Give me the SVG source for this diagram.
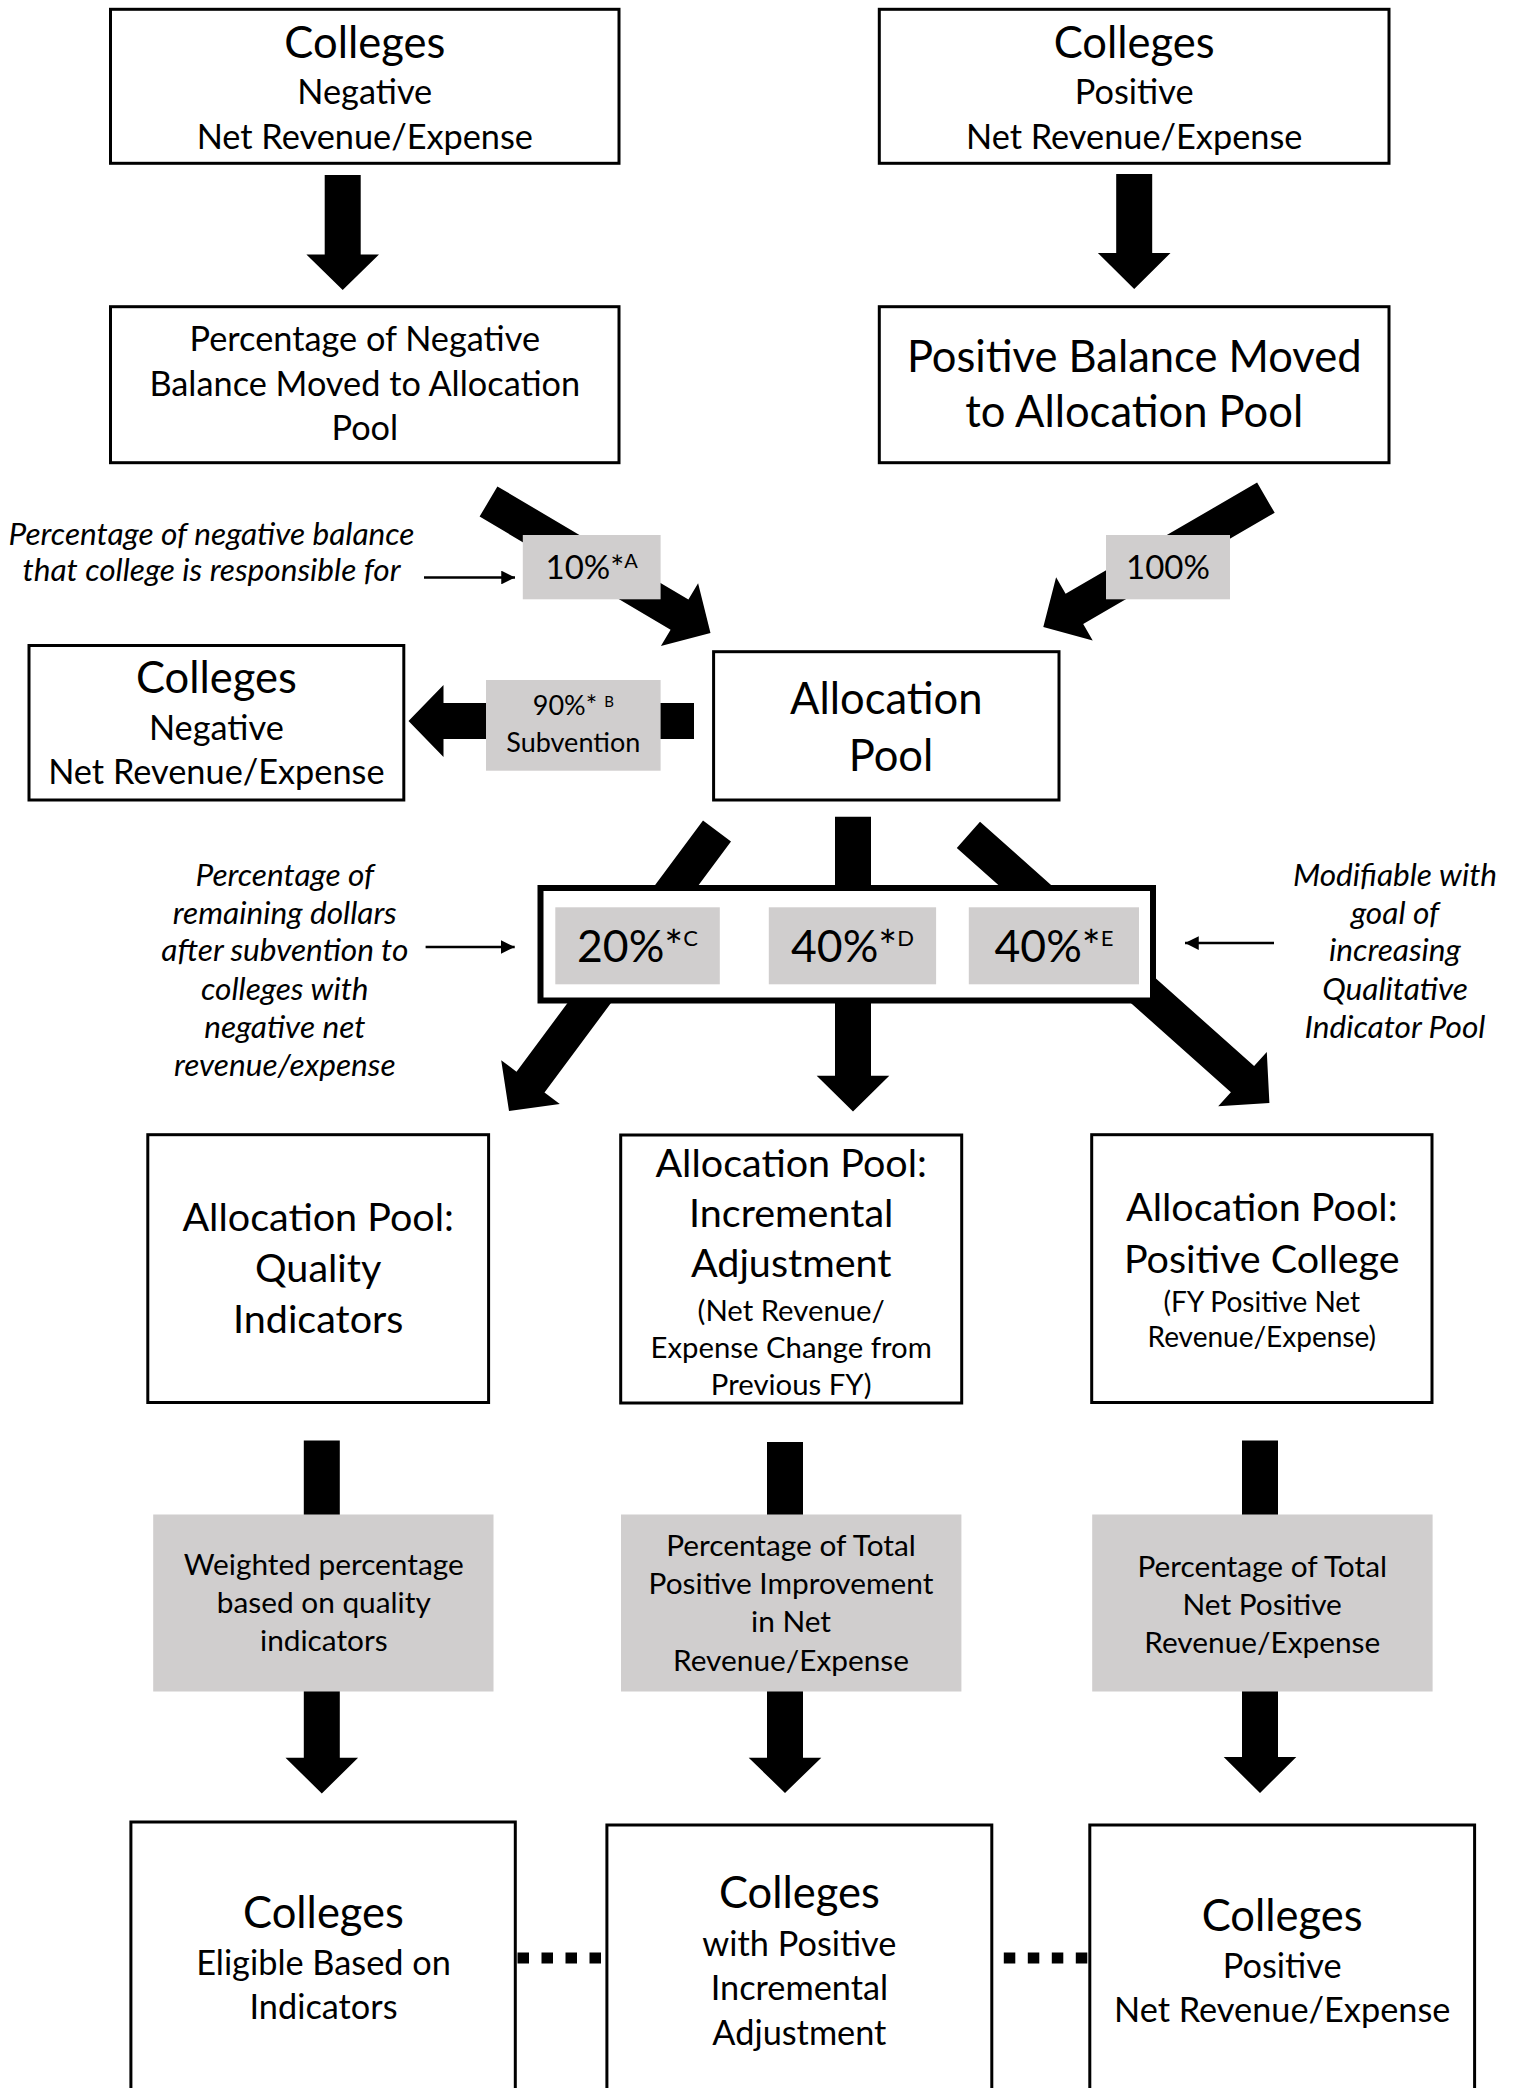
<svg xmlns="http://www.w3.org/2000/svg" width="1517" height="2088" viewBox="0 0 1517 2088">
<style>
.box{fill:#fff;stroke:#000;stroke-width:3}
.frame{fill:#fff;stroke:#000;stroke-width:6}
.gray{fill:#D0CECE}
.ar{fill:#000}
.thin{stroke:#000;stroke-width:2.5;fill:none}
.dots{stroke:#000;stroke-width:11;stroke-dasharray:11.5 12.5;fill:none}
text{font-family:Lato,"Liberation Sans",sans-serif;fill:#000;text-anchor:middle}
.s40{font-size:43.5px}.s38{font-size:39.5px}.s32{font-size:34.3px}.s31{font-size:33px}
.s27{font-size:29.3px}.s25{font-size:28px}.s26{font-size:27px}.s275{font-size:29.8px}
.pct{font-size:44.5px}
.it{font-style:italic;font-size:31.6px}
</style>
<defs>
<marker id="ah" viewBox="0 0 10 10" refX="10" refY="5" markerWidth="5.5" markerHeight="5.5" markerUnits="strokeWidth" orient="auto">
<path d="M0,0 L10,5 L0,10 z" fill="#000"/>
</marker>
</defs>

<g id="connectors">
<polygon class="ar" points="324.7,175 360.7,175 360.7,254.5 379,254.5 342.7,290 306.4,254.5 324.7,254.5"/>
<polygon class="ar" points="1116.2,174 1152.2,174 1152.2,253 1170.5,253 1134.2,289 1097.9,253 1116.2,253"/>
<polygon class="ar" points="497.4,486.4 688.4,599.6 698.1,583.2 710.5,633 660.9,646.1 670.6,629.7 479.6,516.6"/>
<polygon class="ar" points="1257.1,482.6 1274.7,512.8 1083.2,624 1092.7,640.5 1043.3,627 1056.1,577.3 1065.6,593.8"/>
<polygon class="ar" points="694,703 443.5,703 443.5,685 408.5,721 443.5,757 443.5,739 694,739"/>
<polygon class="ar" points="835,816.7 871,816.7 871,1075.8 889.3,1075.8 853,1111.4 816.7,1075.8 835,1075.8"/>
<polygon class="ar" points="703,820.6 731,841.4 544.5,1092.5 559.8,1103.9 509,1111 501.2,1060.3 516.5,1071.7"/>
<polygon class="ar" points="980,821.7 1254.1,1066 1266.8,1051.9 1269.4,1103 1218.2,1106.3 1230.9,1092.2 956.8,847.9"/>
<polygon class="ar" points="303.8,1440.5 339.8,1440.5 339.8,1757.7 358.1,1757.7 321.8,1793.5 285.5,1757.7 303.8,1757.7"/>
<polygon class="ar" points="767,1442 803,1442 803,1757.7 821.3,1757.7 785,1793 748.7,1757.7 767,1757.7"/>
<polygon class="ar" points="1242,1440.5 1278,1440.5 1278,1757 1296.3,1757 1260,1793 1223.7,1757 1242,1757"/>
<line class="thin" x1="424" y1="577.5" x2="515" y2="577.5" marker-end="url(#ah)"/>
<line class="thin" x1="425.6" y1="947" x2="514.7" y2="947" marker-end="url(#ah)"/>
<line class="thin" x1="1274" y1="943" x2="1185" y2="943" marker-end="url(#ah)"/>
<line class="dots" x1="517.5" y1="1958" x2="603" y2="1958"/>
<line class="dots" x1="1003.8" y1="1958" x2="1089" y2="1958"/>
</g>

<g id="n-neg-top">
<rect class="box" x="110.5" y="9.3" width="508.5" height="154"/>
<text class="s40" x="364.8" y="58">Colleges</text>
<text class="s32" x="364.8" y="104">Negative</text>
<text class="s32" x="364.8" y="149">Net Revenue/Expense</text>
</g>
<g id="n-pos-top">
<rect class="box" x="879.3" y="9.3" width="509.7" height="154"/>
<text class="s40" x="1134.2" y="58">Colleges</text>
<text class="s32" x="1134.2" y="104">Positive</text>
<text class="s32" x="1134.2" y="149">Net Revenue/Expense</text>
</g>
<g id="n-neg-pct">
<rect class="box" x="110.5" y="306.7" width="508.5" height="156"/>
<text class="s32" x="364.8" y="351">Percentage of Negative</text>
<text class="s32" x="364.8" y="396">Balance Moved to Allocation</text>
<text class="s32" x="364.8" y="440">Pool</text>
</g>
<g id="n-pos-bal">
<rect class="box" x="879.3" y="306.7" width="509.7" height="156"/>
<text class="s40" x="1134.2" y="372">Positive Balance Moved</text>
<text class="s40" x="1134.2" y="427">to Allocation Pool</text>
</g>
<g id="n-neg-left">
<rect class="box" x="29" y="645.5" width="374.8" height="154.5"/>
<text class="s40" x="216.4" y="693">Colleges</text>
<text class="s32" x="216.4" y="740">Negative</text>
<text class="s32" x="216.4" y="784">Net Revenue/Expense</text>
</g>
<g id="n-pool">
<rect class="box" x="713.6" y="651.7" width="345.4" height="148.3"/>
<text class="s40" x="886.3" y="714">Allocation</text>
<text class="s40" x="891" y="771">Pool</text>
</g>
<g id="n-split">
<rect class="frame" x="540.5" y="888" width="612.5" height="112.5"/>
<rect class="gray" x="555.3" y="907.3" width="164.5" height="77"/>
<rect class="gray" x="768.8" y="907.3" width="167.3" height="77"/>
<rect class="gray" x="968.8" y="907.3" width="170.2" height="77"/>
<text x="637.5" y="961.7" class="pct">20%*<tspan font-size="22" dy="-16">C</tspan></text>
<text x="852.5" y="961.7" class="pct">40%*<tspan font-size="22" dy="-16">D</tspan></text>
<text x="1054" y="961.7" class="pct">40%*<tspan font-size="22" dy="-16">E</tspan></text>
</g>
<g id="n-quality">
<rect class="box" x="147.8" y="1134.7" width="340.8" height="267.8"/>
<text class="s38" x="318.2" y="1231">Allocation Pool:</text>
<text class="s38" x="318.2" y="1282">Quality</text>
<text class="s38" x="318.2" y="1333">Indicators</text>
</g>
<g id="n-incr">
<rect class="box" x="620.7" y="1135" width="341" height="268"/>
<text class="s38" x="791.2" y="1177">Allocation Pool:</text>
<text class="s38" x="791.2" y="1227">Incremental</text>
<text class="s38" x="791.2" y="1277">Adjustment</text>
<text class="s27" x="791.2" y="1321">(Net Revenue/</text>
<text class="s27" x="791.2" y="1358">Expense Change from</text>
<text class="s27" x="791.2" y="1395">Previous FY)</text>
</g>
<g id="n-poscol">
<rect class="box" x="1091.7" y="1134.7" width="340.3" height="267.8"/>
<text class="s38" x="1261.8" y="1221">Allocation Pool:</text>
<text class="s38" x="1261.8" y="1273">Positive College</text>
<text class="s25" x="1261.8" y="1312">(FY Positive Net</text>
<text class="s25" x="1261.8" y="1347">Revenue/Expense)</text>
</g>
<g id="n-eligible">
<rect class="box" x="130.9" y="1822" width="384.4" height="290"/>
<text class="s40" x="323.5" y="1928">Colleges</text>
<text class="s32" x="323.5" y="1975">Eligible Based on</text>
<text class="s32" x="323.5" y="2019">Indicators</text>
</g>
<g id="n-incr-col">
<rect class="box" x="606.9" y="1825" width="384.9" height="290"/>
<text class="s40" x="799.4" y="1908">Colleges</text>
<text class="s32" x="799.4" y="1956">with Positive</text>
<text class="s32" x="799.4" y="2000">Incremental</text>
<text class="s32" x="799.4" y="2045">Adjustment</text>
</g>
<g id="n-pos-bottom">
<rect class="box" x="1089.8" y="1825" width="384.8" height="290"/>
<text class="s40" x="1282.2" y="1931">Colleges</text>
<text class="s32" x="1282.2" y="1978">Positive</text>
<text class="s32" x="1282.2" y="2022">Net Revenue/Expense</text>
</g>

<g id="labels">
<rect class="gray" x="522.8" y="535" width="137.8" height="64.3"/>
<text class="s31" x="591.7" y="579.3">10%*<tspan font-size="20" dy="-11">A</tspan></text>
<rect class="gray" x="1106" y="535" width="124" height="64.3"/>
<text class="s31" x="1168" y="579.3">100%</text>
<rect class="gray" x="486" y="680" width="174.6" height="90.7"/>
<text class="s26" x="573.3" y="715">90%* <tspan font-size="15" dy="-8">B</tspan></text>
<text class="s26" x="573.3" y="752">Subvention</text>
<text class="it" x="211.5" y="545">Percentage of negative balance</text>
<text class="it" x="211.5" y="581">that college is responsible for</text>
<text class="it" x="284.8" y="886">Percentage of</text>
<text class="it" x="284.8" y="924">remaining dollars</text>
<text class="it" x="284.8" y="961">after subvention to</text>
<text class="it" x="284.8" y="1000">colleges with</text>
<text class="it" x="284.8" y="1038">negative net</text>
<text class="it" x="284.8" y="1076">revenue/expense</text>
<text class="it" x="1395" y="886">Modifiable with</text>
<text class="it" x="1395" y="924">goal of</text>
<text class="it" x="1395" y="961">increasing</text>
<text class="it" x="1395" y="1000">Qualitative</text>
<text class="it" x="1395" y="1038">Indicator Pool</text>
<rect class="gray" x="153.2" y="1514.5" width="340.3" height="177"/>
<text class="s275" x="323.8" y="1575">Weighted percentage</text>
<text class="s275" x="323.8" y="1613">based on quality</text>
<text class="s275" x="323.8" y="1651">indicators</text>
<rect class="gray" x="621" y="1514.5" width="340.4" height="177"/>
<text class="s275" x="791" y="1556">Percentage of Total</text>
<text class="s275" x="791" y="1594">Positive Improvement</text>
<text class="s275" x="791" y="1632">in Net</text>
<text class="s275" x="791" y="1670.5">Revenue/Expense</text>
<rect class="gray" x="1092.2" y="1514.5" width="340.4" height="177"/>
<text class="s275" x="1262.2" y="1577">Percentage of Total</text>
<text class="s275" x="1262.2" y="1615">Net Positive</text>
<text class="s275" x="1262.2" y="1653">Revenue/Expense</text>
</g>
</svg>
